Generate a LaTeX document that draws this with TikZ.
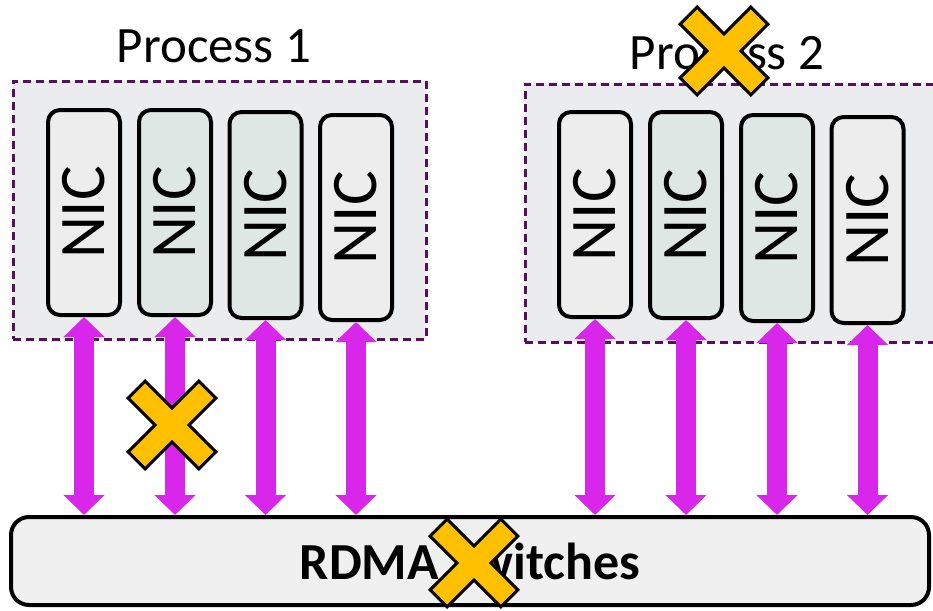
\documentclass[tikz,border=0pt]{standalone}
\usepackage{fontspec}
\setmainfont{Carlito}
\usepackage{graphicx}
\usetikzlibrary{arrows.meta}

\definecolor{groupfill}{HTML}{EBECEE}
\definecolor{groupline}{HTML}{580E60}
\definecolor{nicgrey}{HTML}{EDEDED}
\definecolor{nicgreen}{HTML}{DEE7E4}
\definecolor{switchfill}{HTML}{F0F0F0}
\definecolor{linkpink}{HTML}{D926EB}
\definecolor{failyellow}{HTML}{FFC000}

\tikzset{
  groupbox/.style={draw=groupline, fill=groupfill, line width=3pt,
    dash pattern=on 8pt off 5pt, inner sep=0pt},
  proclabel/.style={font=\fontsize{51}{60}\selectfont, inner sep=0pt},
  nicbox/.style={draw=black, line width=4pt, rounded corners=12pt,
    minimum width=72pt, inner sep=0pt,
    font=\fontsize{65}{70}\selectfont},
  switchbox/.style={draw=black, fill=switchfill, line width=4pt,
    rounded corners=18pt, minimum width=918pt, minimum height=88pt,
    inner sep=0pt, font=\bfseries\fontsize{52}{60}\selectfont},
  duplex/.style={draw=linkpink, line width=20pt,
    {Triangle[length=20pt,width=40pt]}-{Triangle[length=20pt,width=40pt]}},
  failx/.pic={
    \draw[fill=failyellow, draw=black, line width=3pt, line join=miter, rotate=45]
      (12,12) -- (50,12) -- (50,-12) -- (12,-12) -- (12,-50) -- (-12,-50)
      -- (-12,-12) -- (-50,-12) -- (-50,12) -- (-12,12) -- (-12,50)
      -- (12,50) -- cycle;
  }
}

\begin{document}
\begin{tikzpicture}[x=1pt, y=-1pt]
  \clip (0,0) rectangle (933,610);
  \fill[white] (0,0) rectangle (933,610);

  % process containers
  \node[groupbox, minimum width=413pt, minimum height=258pt] (proc1) at (219.5,210) {};
  \node[groupbox, minimum width=420pt, minimum height=258pt] (proc2) at (735,213) {};
  \node[proclabel, anchor=base] (lab1) at (214,63) {Process 1};
  \node[proclabel, anchor=base] (lab2) at (727,70) {Process 2};

  % NICs of process 1
  \node[nicbox, fill=nicgrey,  minimum height=205pt] (n11) at (84,212.5)  {\rotatebox{90}{NIC}};
  \node[nicbox, fill=nicgreen, minimum height=205pt] (n12) at (175,212.5) {\rotatebox{90}{NIC}};
  \node[nicbox, fill=nicgreen, minimum height=206pt] (n13) at (265.5,215) {\rotatebox{90}{NIC}};
  \node[nicbox, fill=nicgrey,  minimum height=205pt] (n14) at (356,217.5) {\rotatebox{90}{NIC}};

  % NICs of process 2
  \node[nicbox, fill=nicgrey,  minimum height=205pt] (n21) at (595,214.5) {\rotatebox{90}{NIC}};
  \node[nicbox, fill=nicgreen, minimum height=206pt] (n22) at (686,215)   {\rotatebox{90}{NIC}};
  \node[nicbox, fill=nicgreen, minimum height=206pt] (n23) at (777,218)   {\rotatebox{90}{NIC}};
  \node[nicbox, fill=nicgrey,  minimum height=206pt] (n24) at (867.5,220) {\rotatebox{90}{NIC}};

  % switch fabric
  \node[switchbox] (sw) at (470,561) {RDMA Switches};

  % links between NICs and switches
  \foreach \n in {n11,n12,n13,n14,n21,n22,n23,n24}
    \draw[duplex] (\n.south) -- (\n.south |- sw.north);

  % failure marks
  \pic at (724,51) {failx};
  \pic at (172,425) {failx};
  \pic at (474,563) {failx};
\end{tikzpicture}
\end{document}
